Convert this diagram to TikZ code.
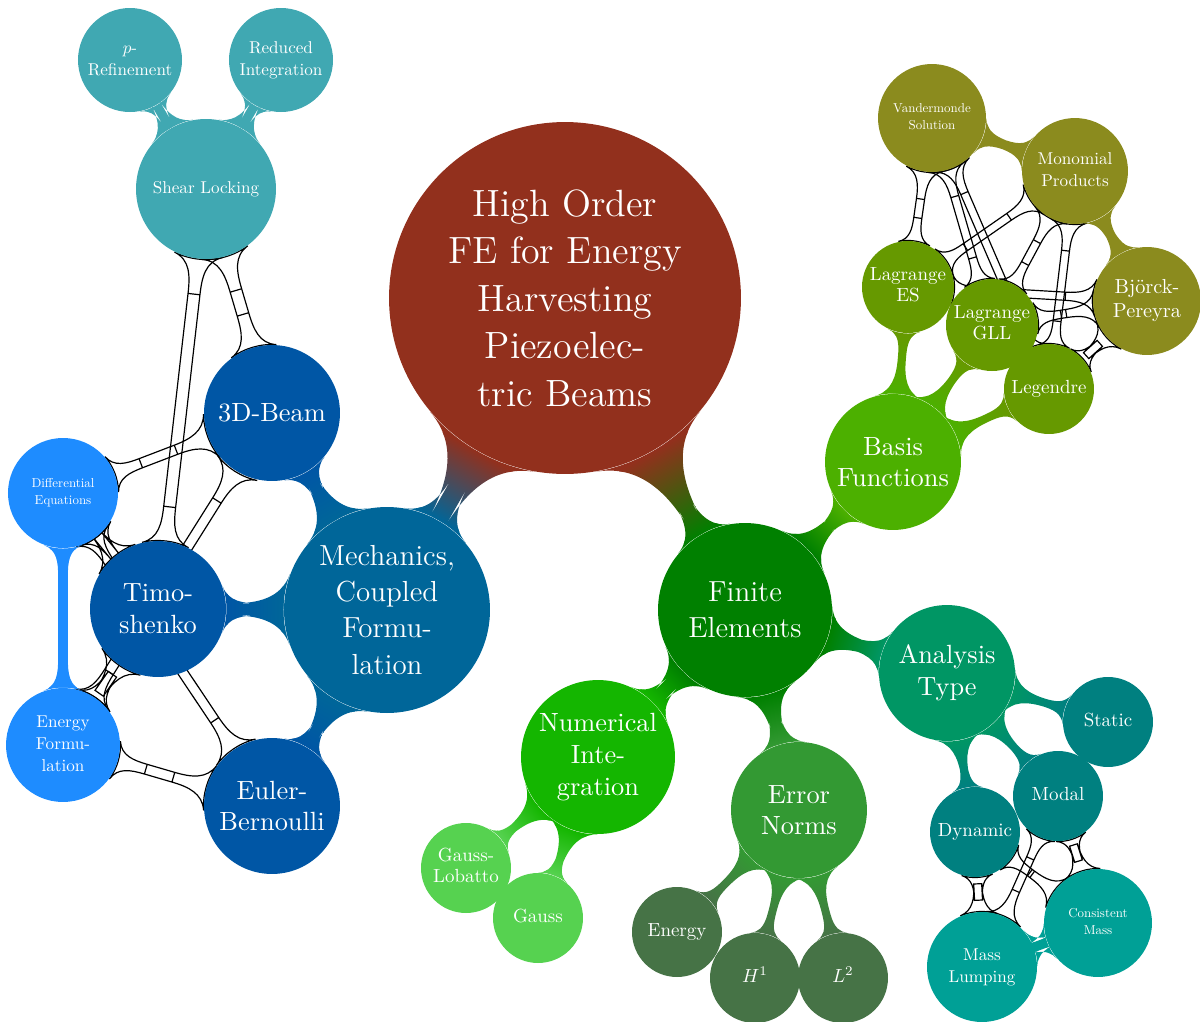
\documentclass[tikz,border=0pt]{standalone}
\usepackage{graphicx}
\usetikzlibrary{mindmap,backgrounds}
\definecolor{cRoot}{RGB}{146,48,29}
\definecolor{cMech}{RGB}{0,102,153}
\definecolor{cBeam}{RGB}{0,86,165}
\definecolor{cDE}{RGB}{30,140,255}
\definecolor{cShear}{RGB}{64,168,178}
\definecolor{cFE}{RGB}{0,128,0}
\definecolor{cBasis}{RGB}{76,176,0}
\definecolor{cLag}{RGB}{102,153,0}
\definecolor{cOlive}{RGB}{139,139,30}
\definecolor{cNum}{RGB}{20,182,0}
\definecolor{cGauss}{RGB}{86,210,80}
\definecolor{cErr}{RGB}{51,153,51}
\definecolor{cNorm}{RGB}{70,115,70}
\definecolor{cAna}{RGB}{0,150,100}
\definecolor{cMode}{RGB}{0,128,128}
\definecolor{cMass}{RGB}{0,160,150}
\newcommand\smtxt[3]{\scalebox{#1}{\fontsize{10}{#2}\selectfont\begin{tabular}{@{}c@{}}#3\end{tabular}}}
\newcommand\lthree[1]{\smtxt{0.72}{10.8}{#1}}
\newcommand\lclus[1]{\smtxt{0.65}{12.8}{#1}}
\newcommand\ltiny[1]{\smtxt{0.49}{13}{#1}}
\begin{document}
\begin{tikzpicture}[x=0.013333cm, y=-0.013333cm,
  cpt/.style={circle, inner sep=0pt, text=white, align=center, fill=#1},
  lvA/.style={font=\fontsize{11}{13.7}\selectfont},
  lvB/.style={font=\normalsize},
  xlink/.style={fill opacity=0, postaction={draw=black, line width=0.45pt}}]
\useasboundingbox (0,0) rectangle (1200,1022);
% main tree
\node[cpt=cRoot, minimum size=4.693cm, font=\Large] (root) at (565,298) {High Order\\FE for Energy\\Harvesting\\Piezoelec-\\tric Beams};
\node[cpt=cMech, minimum size=2.747cm, lvA] (mech) at (387,610) {Mechanics,\\Coupled\\Formu-\\lation};
\node[cpt=cFE, minimum size=2.32cm, lvA] (fe) at (745,610) {Finite\\Elements};
\node[cpt=cBeam, minimum size=1.813cm, lvB] (b3d) at (272,413) {3D-Beam};
\node[cpt=cBeam, minimum size=1.813cm, lvB] (timo) at (158,609) {Timo-\\shenko};
\node[cpt=cBeam, minimum size=1.813cm, lvB] (eb) at (272,806) {Euler-\\Bernoulli};
\node[cpt=cBasis, minimum size=1.813cm, lvB] (basis) at (893,462) {Basis\\Functions};
\node[cpt=cAna, minimum size=1.813cm, lvB] (ana) at (947,673) {Analysis\\Type};
\node[cpt=cErr, minimum size=1.813cm, lvB] (err) at (799,810) {Error\\Norms};
\node[cpt=cNum, minimum size=2.053cm, lvB] (num) at (598,757) {Numerical\\Inte-\\gration};
\node[cpt=cLag, minimum size=1.227cm] (les) at (908,287) {\lthree{Lagrange\\ES}};
\node[cpt=cLag, minimum size=1.227cm] (gll) at (992,325) {\lthree{Lagrange\\GLL}};
\node[cpt=cLag, minimum size=1.2cm] (leg) at (1049,389) {\lthree{Legendre}};
\node[cpt=cGauss, minimum size=1.2cm] (gl) at (466,868) {\lthree{Gauss-\\Lobatto}};
\node[cpt=cGauss, minimum size=1.2cm] (gauss) at (538,918) {\lthree{Gauss}};
\node[cpt=cNorm, minimum size=1.2cm] (en) at (677,932) {\lthree{Energy}};
\node[cpt=cNorm, minimum size=1.2cm] (hone) at (755,978) {\lthree{$H^1$}};
\node[cpt=cNorm, minimum size=1.2cm] (ltwo) at (843,978) {\lthree{$L^2$}};
\node[cpt=cMode, minimum size=1.2cm] (static) at (1108,722) {\lthree{Static}};
\node[cpt=cMode, minimum size=1.2cm] (modal) at (1058,796) {\lthree{Modal}};
\node[cpt=cMode, minimum size=1.2cm] (dyn) at (975,832) {\lthree{Dynamic}};
% side clusters
\node[cpt=cShear, minimum size=1.867cm] (shear) at (206,189) {\lclus{Shear Locking}};
\node[cpt=cShear, minimum size=1.387cm] (pref) at (130,60) {\lclus{$p$-\\Refinement}};
\node[cpt=cShear, minimum size=1.387cm] (redi) at (281,60) {\lclus{Reduced\\Integration}};
\node[cpt=cDE, minimum size=1.467cm] (de) at (63,493) {\ltiny{Differential\\Equations}};
\node[cpt=cDE, minimum size=1.52cm] (ef) at (63,745) {\lclus{Energy\\Formu-\\lation}};
\node[cpt=cOlive, minimum size=1.44cm] (vand) at (932,118) {\ltiny{Vandermonde\\Solution}};
\node[cpt=cOlive, minimum size=1.413cm] (mono) at (1075,171) {\lclus{Monomial\\Products}};
\node[cpt=cOlive, minimum size=1.44cm] (bj) at (1147,301) {\smtxt{0.77}{11.8}{Björck-\\Pereyra}};
\node[cpt=cMass, minimum size=1.467cm] (ml) at (982,967) {\lclus{Mass\\Lumping}};
\node[cpt=cMass, minimum size=1.44cm] (cm) at (1098,923) {\ltiny{Consistent\\Mass}};
\begin{scope}[on background layer]
% cross links
\foreach \a/\b in {shear/b3d, shear/timo, de/b3d, de/timo, de/eb, ef/b3d, ef/timo, ef/eb,
  vand/les, vand/gll, vand/leg, mono/les, mono/gll, mono/leg, bj/les, bj/gll, bj/leg,
  dyn/ml, dyn/cm, modal/ml, modal/cm}
  \path[xlink] (\a) to[circle connection bar] (\b);
% tree connections
\foreach \a/\ca/\b/\cb in {root/cRoot/mech/cMech, root/cRoot/fe/cFE,
  mech/cMech/b3d/cBeam, mech/cMech/timo/cBeam, mech/cMech/eb/cBeam,
  fe/cFE/basis/cBasis, fe/cFE/ana/cAna, fe/cFE/err/cErr, fe/cFE/num/cNum,
  basis/cBasis/les/cLag, basis/cBasis/gll/cLag, basis/cBasis/leg/cLag,
  num/cNum/gl/cGauss, num/cNum/gauss/cGauss,
  err/cErr/en/cNorm, err/cErr/hone/cNorm, err/cErr/ltwo/cNorm,
  ana/cAna/static/cMode, ana/cAna/modal/cMode, ana/cAna/dyn/cMode,
  shear/cShear/pref/cShear, shear/cShear/redi/cShear,
  de/cDE/ef/cDE, mono/cOlive/vand/cOlive, mono/cOlive/bj/cOlive, ml/cMass/cm/cMass}
  \path (\a) to[circle connection bar switch color=from (\ca) to (\cb)] (\b);
\end{scope}
\end{tikzpicture}
\end{document}
